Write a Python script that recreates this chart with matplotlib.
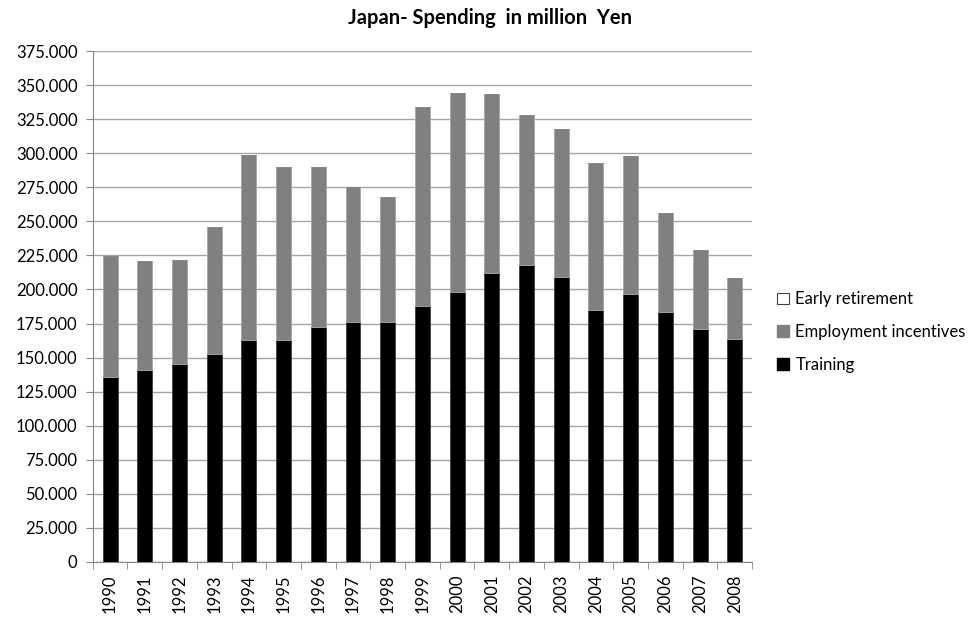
import matplotlib.pyplot as plt
import numpy as np
from matplotlib.patches import Patch
from matplotlib.ticker import FuncFormatter, MultipleLocator

years = [str(y) for y in range(1990, 2009)]

# spending in million Yen
training = [136, 140.6, 145.2, 152.6, 162.9, 163, 172.6, 176.3, 176.3, 188.1,
            198.4, 211.9, 218, 208.9, 185.1, 196.4, 183.2, 171.2, 163.8]
total = [224.8, 220.9, 221.6, 246.1, 298.8, 290, 290, 275, 268.2, 334.3,
         344.1, 343.4, 328.4, 318.1, 292.7, 298, 256.4, 229, 208.6]
early_retirement = [0] * len(years)

training = np.array(training) * 1000
employment = np.array(total) * 1000 - training
early = np.array(early_retirement) * 1000

plt.rcParams["font.family"] = ["Lato", "DejaVu Sans"]

fig = plt.figure(figsize=(9.73, 6.19), dpi=100)
ax = fig.add_axes([0.0953, 0.0926, 0.6777, 0.8245])

x = np.arange(len(years))
w = 0.43
ax.bar(x, training, w, color="black", edgecolor="#404040", linewidth=0.6, zorder=3)
ax.bar(x, employment, w, bottom=training, color="#808080", edgecolor="#a6a6a6",
       linewidth=0.6, zorder=3)
ax.bar(x, early, w, bottom=training + employment, color="white", edgecolor="#808080",
       linewidth=0.6, zorder=3)

ax.set_xlim(-0.5, len(years) - 0.5)
ax.set_ylim(0, 375000)
ax.yaxis.set_major_locator(MultipleLocator(25000))
ax.yaxis.set_major_formatter(FuncFormatter(lambda v, p: f"{v:,.0f}".replace(",", ".")))
ax.grid(axis="y", color="#a6a6a6", linewidth=1, zorder=0)

ax.set_xticks(x)
ax.set_xticklabels(years, rotation=90)
ax.set_xticks(np.arange(-0.5, len(years)), minor=True)
ax.tick_params(axis="x", which="major", length=0, pad=9, labelsize=12)
ax.tick_params(axis="x", which="minor", length=5, color="#868686")
ax.tick_params(axis="y", length=5, color="#868686", labelsize=12, pad=6)

for side in ["top", "right"]:
    ax.spines[side].set_visible(False)
for side in ["left", "bottom"]:
    ax.spines[side].set_color("#868686")

fig.text(0.504, 0.971, "Japan- Spending  in million  Yen", ha="center", va="center",
         fontsize=14.5, fontweight="bold")

handles = [
    Patch(facecolor="white", edgecolor="#404040", linewidth=0.8),
    Patch(facecolor="#808080", edgecolor="#808080"),
    Patch(facecolor="black", edgecolor="black"),
]
ax.legend(handles, ["Early retirement", "Employment incentives", "Training"],
          loc="center left", bbox_to_anchor=(1.015, 0.45), frameon=False,
          fontsize=12, handlelength=0.7, handleheight=0.7, handletextpad=0.4,
          labelspacing=1.0)

fig.savefig("out.png", dpi=100)
